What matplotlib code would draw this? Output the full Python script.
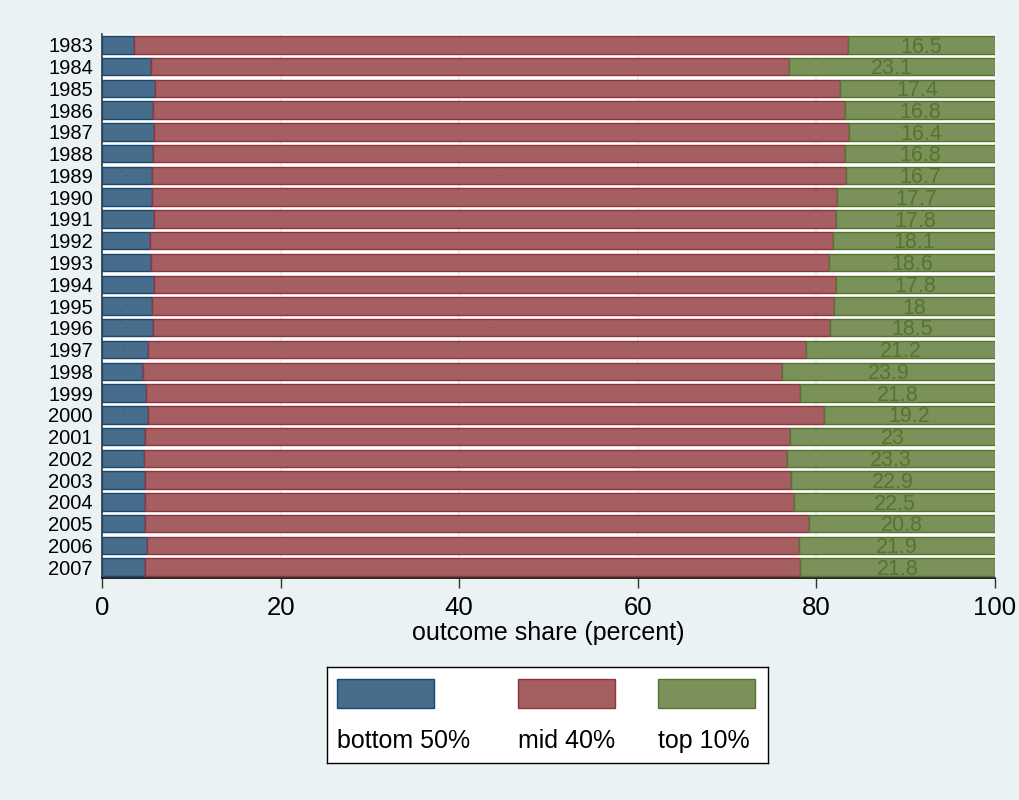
import matplotlib
matplotlib.use("Agg")
import matplotlib.pyplot as plt
from matplotlib.patches import Rectangle

plt.rcParams["font.family"] = ["Liberation Sans", "DejaVu Sans"]

years = ["1983", "1984", "1985", "1986", "1987", "1988", "1989", "1990", "1991",
         "1992", "1993", "1994", "1995", "1996", "1997", "1998", "1999", "2000",
         "2001", "2002", "2003", "2004", "2005", "2006", "2007"]
bottom50 = [3.6, 5.5, 5.9, 5.7, 5.8, 5.7, 5.6, 5.6, 5.8, 5.4, 5.5, 5.8, 5.6,
            5.7, 5.1, 4.6, 4.9, 5.1, 4.8, 4.7, 4.8, 4.8, 4.8, 5.0, 4.8]
mid40 = [79.9, 71.4, 76.7, 77.5, 77.8, 77.5, 77.7, 76.7, 76.4, 76.5, 75.9, 76.4,
         76.4, 75.8, 73.7, 71.5, 73.3, 75.7, 72.2, 72.0, 72.3, 72.7, 74.4, 73.1,
         73.4]
top10 = [16.5, 23.1, 17.4, 16.8, 16.4, 16.8, 16.7, 17.7, 17.8, 18.1, 18.6, 17.8,
         18, 18.5, 21.2, 23.9, 21.8, 19.2, 23, 23.3, 22.9, 22.5, 20.8, 21.9, 21.8]
series_names = ["bottom 50%", "mid 40%", "top 10%"]
x_ticks = [0, 20, 40, 60, 80, 100]
x_title = "outcome share (percent)"

fills = ["#486C8B", "#A55E62", "#7A9159"]
edges = ["#1A476F", "#90353B", "#55752F"]
bg = "#EAF2F3"

fig = plt.figure(figsize=(10.2, 8), dpi=100, facecolor=bg)
ax = fig.add_axes([0.1, 0.2775, 0.8755, 0.68])
ax.set_facecolor("white")

pos = list(range(len(years)))
left = [0.0] * len(years)
for k, vals in enumerate([bottom50, mid40, top10]):
    ax.barh(pos, vals, left=left, height=0.8, color=fills[k],
            edgecolor=edges[k], linewidth=1.0, zorder=3)
    for i, v in enumerate(vals):
        cx = left[i] + v / 2
        if k == 2:
            ax.text(cx, i + 0.1, f"{v:g}", ha="center", va="center",
                    fontsize=15.5, color=edges[k], zorder=4)
        else:
            ax.text(cx, i, f"{v:g}", ha="center", va="center",
                    fontsize=1.5, color=edges[k], zorder=4)
    left = [a + b for a, b in zip(left, vals)]

ax.set_xlim(0, 100)
ax.set_ylim(len(years) - 0.5, -0.5)
ax.set_yticks(pos)
ax.set_yticklabels(years, fontsize=14.5)
ax.tick_params(axis="y", length=0, pad=6.5)
ax.set_xticks(x_ticks)
ax.set_xticklabels([str(t) for t in x_ticks], fontsize=18.5)
ax.tick_params(axis="x", length=7, width=1, color="#333333", pad=6)
ax.set_xlabel(x_title, fontsize=18, labelpad=1)

for g in x_ticks[1:-1]:
    ax.axvline(g, color=bg, lw=1.5, zorder=1)

for s in ["top", "right"]:
    ax.spines[s].set_visible(False)
ax.spines["left"].set_color("#333333")
ax.spines["bottom"].set_color("black")
ax.spines["left"].set_linewidth(1.2)
ax.spines["bottom"].set_linewidth(1.2)

# legend box with keys above their labels
W, H = 1020.0, 800.0
lax = fig.add_axes([327 / W, 1 - 763 / H, (768 - 327) / W, (763 - 667) / H])
lax.set_xlim(327, 768)
lax.set_ylim(763, 667)
lax.set_xticks([])
lax.set_yticks([])
lax.set_facecolor("white")
for s in lax.spines.values():
    s.set_color("black")
    s.set_linewidth(1.0)
key_x = [337, 518, 658]
for k, name in enumerate(series_names):
    lax.add_patch(Rectangle((key_x[k], 679), 97, 29, facecolor=fills[k],
                            edgecolor=edges[k], linewidth=1.0))
    lax.text(key_x[k], 741, name, ha="left", va="center", fontsize=18)

fig.savefig("out.png", dpi=100, facecolor=bg)
